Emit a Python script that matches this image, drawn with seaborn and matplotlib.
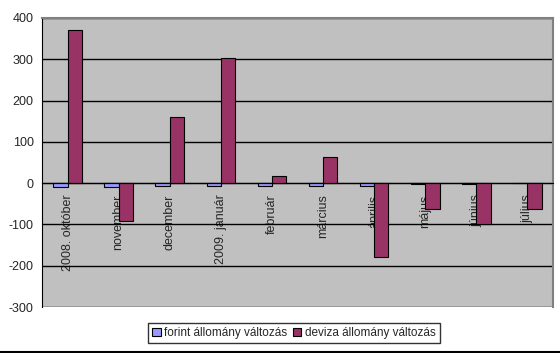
import pandas as pd
import seaborn as sns
import matplotlib.pyplot as plt
from matplotlib.lines import Line2D

# Monthly values
months = ["2008. október", "november", "december", "2009. január", "február",
          "március", "április", "május", "június", "július"]
forint = [-10, -10, -7, -7, -7, -6, -7, -2, -1, 0]
deviza = [372, -92, 160, 303, 18, 63, -179, -63, -100, -63]
series_names = ["forint állomány változás", "deviza állomány változás"]

df = pd.DataFrame({
    "honap": months * 2,
    "ertek": forint + deviza,
    "sorozat": [series_names[0]] * len(months) + [series_names[1]] * len(months),
})

sns.set_style("white")
plt.rcParams["font.family"] = ["Liberation Sans", "DejaVu Sans"]
plt.rcParams["axes.unicode_minus"] = False

fig = plt.figure(figsize=(5.6, 3.53), dpi=100)
ax = fig.add_axes([42 / 560, 1 - 307 / 353, (553 - 42) / 560, (307 - 18) / 353])
ax.set_facecolor("#C0C0C0")
ax.set_axisbelow(True)

sns.barplot(data=df, x="honap", y="ertek", hue="sorozat", order=months,
            hue_order=series_names, palette=["#9999FF", "#993366"],
            width=0.56, gap=0, edgecolor="black", linewidth=0.8,
            saturation=1, ax=ax, legend=True)

ax.set_ylim(-300, 400)
ax.set_yticks(range(-300, 401, 100))
ax.set_xlim(-0.5, len(months) - 0.5)
ax.yaxis.grid(True, color="black", linewidth=1)
ax.set_xlabel("")
ax.set_ylabel("")

# x axis sits on the zero line, ticks at category boundaries
ax.spines["bottom"].set_position(("data", 0))
ax.spines["bottom"].set_color("black")
ax.spines["left"].set_color("black")
ax.spines["top"].set_color("#808080")
ax.spines["right"].set_color("#808080")
ax.spines["top"].set_linewidth(1.5)
ax.spines["right"].set_linewidth(1.5)
ax.set_xticks([i + 0.5 for i in range(len(months) - 1)], minor=True)
ax.tick_params(axis="x", which="minor", direction="out", length=3, color="black", width=1)
ax.tick_params(axis="x", which="major", length=0, pad=8)
ax.tick_params(axis="y", direction="out", length=4, color="black", width=1,
               labelsize=9, pad=2)
for lbl in ax.get_xticklabels():
    lbl.set_rotation(90)
    lbl.set_fontsize(9)

handles, labels = ax.get_legend_handles_labels()
ax.get_legend().remove()
leg = fig.legend(handles, labels, loc="center", bbox_to_anchor=(294 / 560, 1 - 333 / 353),
                 ncol=2, fontsize=8.5, frameon=True, fancybox=False, edgecolor="black",
                 handlelength=0.7, handleheight=0.7, handletextpad=0.3,
                 columnspacing=0.5, borderpad=0.35, borderaxespad=0)
leg.get_frame().set_linewidth(1)

fig.add_artist(Line2D([0, 1], [0.004, 0.004], color="black", linewidth=1.5,
                      transform=fig.transFigure))

fig.savefig("out.png", dpi=100)
